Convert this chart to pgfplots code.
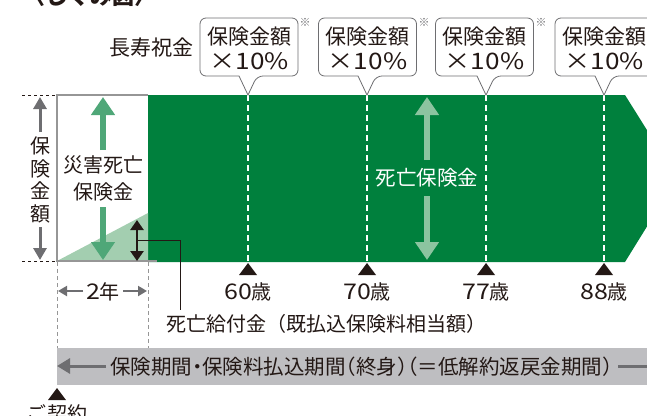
\documentclass[border=0pt]{standalone}
\usepackage{pgfplots}
\pgfplotsset{compat=1.18}
\usepackage{fontspec}
\setmainfont{Noto Sans CJK JP}
\newfontfamily\halt{Noto Sans CJK JP}[RawFeature=+halt]
\usetikzlibrary{arrows.meta}
\definecolor{dkgreen}{RGB}{0,128,61}
\definecolor{ltgreen}{RGB}{163,206,176}
\definecolor{midgreen}{RGB}{79,167,120}
\definecolor{bandarrow}{RGB}{140,196,160}
\definecolor{grayband}{RGB}{190,190,193}
\definecolor{grayarrow}{RGB}{110,110,113}
\definecolor{grayline}{RGB}{150,150,150}
\definecolor{txt}{RGB}{35,24,21}
\newcommand\dg[1]{\scalebox{1.25}[1.08]{#1}}
\begin{document}
\begin{tikzpicture}
\begin{axis}[width=647pt,height=415pt,scale only axis,axis lines=none,
  xmin=0,xmax=647,ymin=0,ymax=415,y dir=reverse,clip=false]
% main green pentagon
\addplot[fill=dkgreen,draw=none] coordinates {(148,95)(625,95)(677,178)(625,262)(148,262)} -- cycle;
% light green triangle (already paid premiums)
\addplot[fill=ltgreen,draw=none] coordinates {(57,261)(148,213)(148,261)} -- cycle;
% frame of white area
\addplot[draw=grayline,line width=1.2pt] coordinates {(148,95)(57,95)(57,261)(157,261)};
% short black dashed at left
\addplot[draw=txt,line width=0.8pt,dash pattern=on 3pt off 3pt] coordinates {(22,95)(57,95)};
\addplot[draw=txt,line width=0.8pt,dash pattern=on 3pt off 3pt] coordinates {(22,261)(57,261)};
% vertical dashed gray lines
\addplot[draw=grayline,line width=0.9pt,dash pattern=on 4pt off 3pt] coordinates {(57,262)(57,388)};
\addplot[draw=grayline,line width=0.9pt,dash pattern=on 4pt off 3pt] coordinates {(148,262)(148,348)};
% white dashed age lines
\addplot[draw=white,line width=2pt,dash pattern=on 6pt off 4pt] coordinates {(248,95)(248,262)};
\addplot[draw=white,line width=2pt,dash pattern=on 6pt off 4pt] coordinates {(367,95)(367,262)};
\addplot[draw=white,line width=2pt,dash pattern=on 6pt off 4pt] coordinates {(486,95)(486,262)};
\addplot[draw=white,line width=2pt,dash pattern=on 6pt off 4pt] coordinates {(604,95)(604,262)};
% age triangles
\addplot[fill=txt,draw=none] coordinates {(239,275)(257,275)(248,263)} -- cycle;
\addplot[fill=txt,draw=none] coordinates {(358,275)(376,275)(367,263)} -- cycle;
\addplot[fill=txt,draw=none] coordinates {(477,275)(495,275)(486,263)} -- cycle;
\addplot[fill=txt,draw=none] coordinates {(595,275)(613,275)(604,263)} -- cycle;
% contract triangle
\addplot[fill=txt,draw=none] coordinates {(48,400)(66,400)(57,388)} -- cycle;
% gray band
\addplot[fill=grayband,draw=none] coordinates {(57,348)(660,348)(660,385)(57,385)} -- cycle;
\addplot[draw=grayarrow,line width=3pt,-{Triangle[width=15pt,length=13pt]}] coordinates {(106,366)(57,366)};
\addplot[draw=grayarrow,line width=3pt] coordinates {(618,366)(660,366)};
% left gray arrows (insured amount)
\addplot[draw=grayarrow,line width=3pt,-{Triangle[width=13pt,length=12pt]}] coordinates {(40,132)(40,97)};
\addplot[draw=grayarrow,line width=3pt,-{Triangle[width=13pt,length=12pt]}] coordinates {(40,227)(40,260)};
% accident death green arrows
\addplot[draw=midgreen,line width=6pt,-{Triangle[width=23pt,length=18pt]}] coordinates {(103,150)(103,97)};
\addplot[draw=midgreen,line width=6pt,-{Triangle[width=23pt,length=18pt]}] coordinates {(103,207)(103,260)};
% death benefit arrows in band
\addplot[draw=bandarrow,line width=6pt,-{Triangle[width=23pt,length=18pt]}] coordinates {(427,160)(427,97)};
\addplot[draw=bandarrow,line width=6pt,-{Triangle[width=23pt,length=18pt]}] coordinates {(427,196)(427,260)};
% black double arrow
\addplot[draw=txt,line width=2.5pt,{Triangle[width=13pt,length=10pt]}-{Triangle[width=13pt,length=10pt]}] coordinates {(137,220)(137,261)};
\addplot[draw=txt,line width=0.9pt] coordinates {(137,240)(180,240)(180,310)};
% 2 years arrows
\addplot[draw=grayarrow,line width=2pt,-{Triangle[width=10pt,length=9pt]}] coordinates {(83,291)(58,291)};
\addplot[draw=grayarrow,line width=2pt,-{Triangle[width=10pt,length=9pt]}] coordinates {(123,291)(147,291)};
% callouts
\foreach \cx/\tx in {249/248,367.5/367,484.5/486,604/604}{
  \edef\tmp{\noexpand\draw[draw=grayarrow,line width=0.8pt,fill=white,rounded corners=6pt]
    (\cx-49,18) -- (\cx+49,18) -- (\cx+49,76) -- (\tx+9,76) [sharp corners] -- (\tx,95) -- (\tx-9,76) [rounded corners=6pt] -- (\cx-49,76) -- cycle;}
  \tmp
  \edef\tmp{\noexpand\node[font=\noexpand\fontsize{21}{25}\noexpand\selectfont,text=txt,align=center] at (\cx,48) {保険金額\noexpand\\\noexpand\dg{×10\noexpand\%}};}
  \tmp
}
\foreach \x in {305,424,541}{
  \edef\tmp{\noexpand\node[font=\noexpand\fontsize{11}{11}\noexpand\selectfont,text=grayarrow] at (\x,22) {※};}
  \tmp
}
% texts
\node[font=\fontsize{22}{22}\selectfont\bfseries,text=txt,anchor=base west] at (20,5) {〈しくみ図〉};
\node[font=\fontsize{21}{24}\selectfont,text=txt] at (151,48) {長寿祝金};
\node[font=\fontsize{20}{22.5}\selectfont,text=txt,align=center,fill=white,inner sep=1pt] at (40,180) {保\\険\\金\\額};
\node[font=\fontsize{20}{27}\selectfont,text=txt,align=center] at (103,178) {災害死亡\\保険金};
\node[font=\fontsize{20.5}{24}\selectfont,text=white] at (427,178) {死亡保険金};
\node[font=\fontsize{20}{24}\selectfont,text=txt] at (103,292) {\dg{2}年};
\node[font=\fontsize{20}{24}\selectfont,text=txt] at (248,292) {\dg{60}歳};
\node[font=\fontsize{20}{24}\selectfont,text=txt] at (367,292) {\dg{70}歳};
\node[font=\fontsize{20}{24}\selectfont,text=txt] at (486,292) {\dg{77}歳};
\node[font=\fontsize{20}{24}\selectfont,text=txt] at (604,292) {\dg{88}歳};
\node[font=\fontsize{20}{24}\selectfont,text=txt,anchor=west] at (163,324) {死亡給付金（既払込保険料相当額）};
\node[font=\fontsize{20.5}{24}\selectfont\halt,text=txt,anchor=west,inner sep=0pt] at (110,367) {保険期間・保険料払込期間（終身）（＝低解約返戻金期間）};
\node[font=\fontsize{20}{24}\selectfont,text=txt] at (57,414) {ご契約};
\end{axis}
\pgfresetboundingbox
\useasboundingbox (current axis.south west) rectangle (current axis.north east);
\end{tikzpicture}
\end{document}
